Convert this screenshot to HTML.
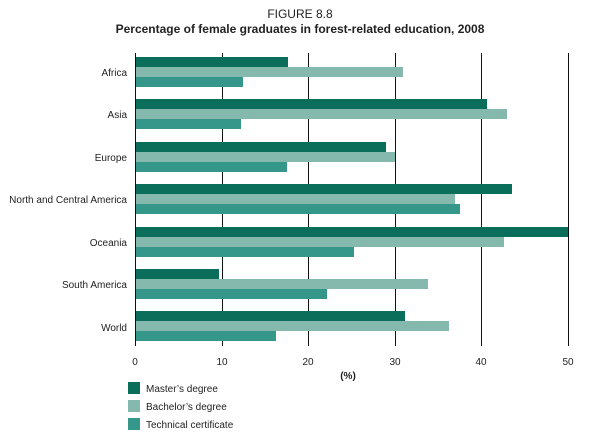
<!DOCTYPE html>
<html><head><meta charset="utf-8"><style>
body{margin:0;background:#fff;}
svg{display:block;font-family:"Liberation Sans",sans-serif;}
</style></head><body>
<svg width="600" height="434" viewBox="0 0 600 434">
<text x="300" y="18" text-anchor="middle" font-size="12" fill="#222">FIGURE 8.8</text>
<text x="300" y="33" text-anchor="middle" font-size="12" font-weight="bold" fill="#222">Percentage of female graduates in forest-related education, 2008</text>
<g stroke="#111" stroke-width="1">
<line x1="135.5" y1="53" x2="135.5" y2="346"/>
<line x1="222.5" y1="53" x2="222.5" y2="346"/>
<line x1="308.5" y1="53" x2="308.5" y2="346"/>
<line x1="395.5" y1="53" x2="395.5" y2="346"/>
<line x1="481.5" y1="53" x2="481.5" y2="346"/>
<line x1="568.5" y1="53" x2="568.5" y2="346"/>
</g>
<g font-size="10" fill="#222" text-anchor="middle">
<text x="135" y="365">0</text><text x="222" y="365">10</text><text x="308" y="365">20</text><text x="395" y="365">30</text><text x="481" y="365">40</text><text x="568" y="365">50</text>
<text x="348" y="379" font-weight="bold">(%)</text>
</g>
<g id="bars"></g>
<g font-size="10" fill="#222" text-anchor="end">
<text x="127" y="76">Africa</text>
<text x="127" y="118">Asia</text>
<text x="127" y="161">Europe</text>
<text x="127" y="203">North and Central America</text>
<text x="127" y="246">Oceania</text>
<text x="127" y="288">South America</text>
<text x="127" y="331">World</text>
</g>
<g>
<rect x="136" y="57" width="152" height="10" fill="#0b6e5a"/><rect x="136" y="67" width="267" height="10" fill="#86b9ae"/><rect x="136" y="77" width="107" height="10" fill="#35978a"/>
<rect x="136" y="99" width="351" height="10" fill="#0b6e5a"/><rect x="136" y="109" width="371" height="10" fill="#86b9ae"/><rect x="136" y="119" width="105" height="10" fill="#35978a"/>
<rect x="136" y="142" width="250" height="10" fill="#0b6e5a"/><rect x="136" y="152" width="259" height="10" fill="#86b9ae"/><rect x="136" y="162" width="151" height="10" fill="#35978a"/>
<rect x="136" y="184" width="376" height="10" fill="#0b6e5a"/><rect x="136" y="194" width="319" height="10" fill="#86b9ae"/><rect x="136" y="204" width="324" height="10" fill="#35978a"/>
<rect x="136" y="227" width="432" height="10" fill="#0b6e5a"/><rect x="136" y="237" width="368" height="10" fill="#86b9ae"/><rect x="136" y="247" width="218" height="10" fill="#35978a"/>
<rect x="136" y="269" width="83" height="10" fill="#0b6e5a"/><rect x="136" y="279" width="292" height="10" fill="#86b9ae"/><rect x="136" y="289" width="191" height="10" fill="#35978a"/>
<rect x="136" y="311" width="269" height="10" fill="#0b6e5a"/><rect x="136" y="321" width="313" height="10" fill="#86b9ae"/><rect x="136" y="331" width="140" height="10" fill="#35978a"/>
</g>
<rect x="128" y="382" width="12" height="12" fill="#0b6e5a"/>
<rect x="128" y="400" width="12" height="12" fill="#86b9ae"/>
<rect x="128" y="418" width="12" height="12" fill="#35978a"/>
<g font-size="10" fill="#222">
<text x="146" y="392">Master’s degree</text>
<text x="146" y="410">Bachelor’s degree</text>
<text x="146" y="428">Technical certificate</text>
</g>
</svg>
</body></html>
